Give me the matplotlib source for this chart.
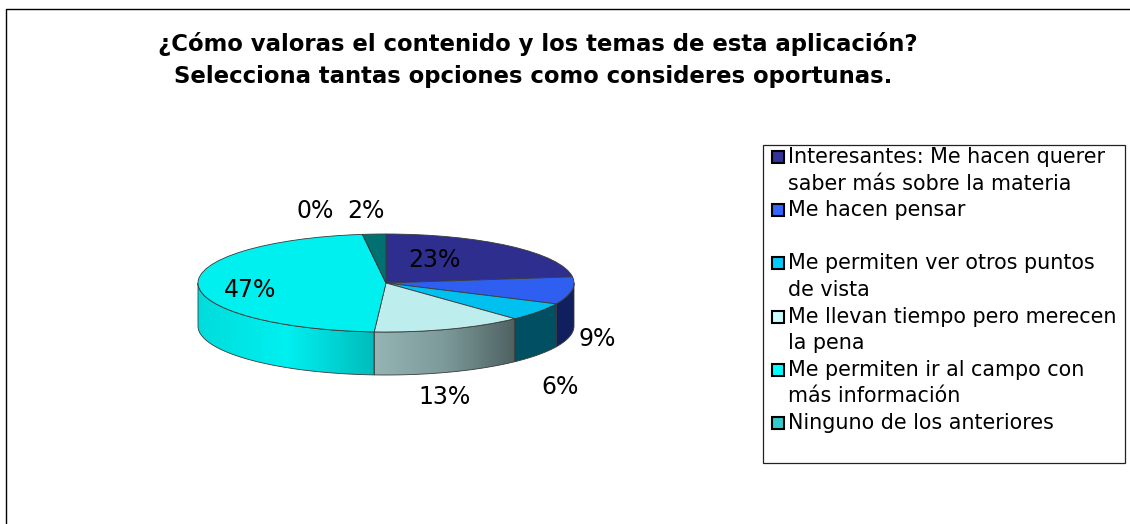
import matplotlib
matplotlib.use('Agg')
import matplotlib.pyplot as plt
import numpy as np
from matplotlib.colors import LinearSegmentedColormap
from matplotlib.patches import Polygon, Rectangle

# --- dane ---
titulo = '¿Cómo valoras el contenido y los temas de esta aplicación?\nSelecciona tantas opciones como consideres oportunas.'
valores = [23, 9, 6, 13, 47, 0, 2]
etiquetas_leyenda = [
    'Interesantes: Me hacen querer\nsaber más sobre la materia',
    'Me hacen pensar\n ',
    'Me permiten ver otros puntos\nde vista',
    'Me llevan tiempo pero merecen\nla pena',
    'Me permiten ir al campo con\nmás información',
    'Ninguno de los anteriores',
]
colores_leyenda = ['#333399', '#3366ff', '#00ccff', '#ccffff', '#00ffff', '#33cccc']
colores_tapa = ['#2e2e8e', '#2e5ff0', '#00c0f0', '#bdeded', '#00f0f0', '#2eb8b8', '#007070']
colores_lado = [
    ['#1a1a55', '#1a1a55'],
    ['#10205f', '#10205f'],
    ['#005062', '#005062'],
    ['#95b4b4', '#7d9a9a', '#4f6262'],
    ['#00dcdc', '#00f0f0', '#00bcbc'],
    ['#1a7070', '#1a7070'],
    ['#004040', '#004040'],
]
pos_etiquetas = [(434, 260), (597, 339), (560, 387), (445, 397), (250, 290), (315, 211), (366, 211)]

W, H = 1130, 524
CX, CY, RX, RY, GRUBOSC = 386, 283, 188, 49, 43
KRAWEDZ = '#3a3a3a'

plt.rcParams['font.family'] = 'DejaVu Sans'
fig = plt.figure(figsize=(W / 100, H / 100), dpi=100, facecolor='white')

# kolo: os na calej figurze, jednostka x = RX pikseli, jednostka y = RY pikseli
ax_kolo = fig.add_axes([0, 0, 1, 1])
ax_kolo.pie(valores, colors=colores_tapa, startangle=90, counterclock=False, radius=1,
            wedgeprops={'edgecolor': KRAWEDZ, 'linewidth': 0.6, 'zorder': 5})
ax_kolo.set_aspect('auto')

# boczna sciana, tylko przod (90-270 stopni od gory zgodnie z zegarem)
gora = np.cumsum(valores) / sum(valores) * 360
dol = np.concatenate([[0], gora[:-1]])
g = GRUBOSC / RY
for a0, a1, stopnie in zip(dol, gora, colores_lado):
    a0, a1 = max(a0, 90), min(a1, 270)
    if a1 <= a0:
        continue
    t = np.radians(np.linspace(a0, a1, 80))
    x, y = np.sin(t), np.cos(t)
    pts = np.column_stack([np.r_[x, x[::-1]], np.r_[y, y[::-1] - g]])
    wielokat = Polygon(pts, closed=True, facecolor='none', edgecolor=KRAWEDZ, linewidth=0.6, zorder=3)
    ax_kolo.add_patch(wielokat)
    cmap = LinearSegmentedColormap.from_list('lado', stopnie)
    x0, x1 = sorted((x.min(), x.max()))
    # gradient idzie od lewej do prawej
    img = ax_kolo.imshow(np.linspace(0, 1, 128).reshape(1, -1), cmap=cmap, aspect='auto', zorder=2,
                         extent=[x0, x1, (y - g).min(), y.max()])
    img.set_clip_path(wielokat)

ax_kolo.set_xlim(-CX / RX, (W - CX) / RX)
ax_kolo.set_ylim(-(H - CY) / RY, CY / RY)
ax_kolo.axis('off')

# wszystko inne w pikselach obrazka
ax = fig.add_axes([0, 0, 1, 1], facecolor='none')
ax.set_xlim(0, W)
ax.set_ylim(H, 0)
ax.axis('off')

ax.plot([5.5, 5.5, W], [H, 9, 9], color='black', linewidth=1)

linie_tytulu = titulo.split('\n')
ax.text(538, 44, linie_tytulu[0], ha='center', va='center', fontsize=16.4, fontweight='bold')
ax.text(533, 77, linie_tytulu[1], ha='center', va='center', fontsize=16.4, fontweight='bold')

for v, (px, py) in zip(valores, pos_etiquetas):
    ax.text(px, py, f'{v}%', ha='center', va='center', fontsize=17, color='black')

# legenda
ax.add_patch(Rectangle((762.5, 145), 362.5, 318, facecolor='white', edgecolor='#222222', linewidth=0.9))
y_linia = 157
KROK = 26.6
for etykieta, kolor in zip(etiquetas_leyenda, colores_leyenda):
    ax.add_patch(Rectangle((772, y_linia - 6), 12, 12, facecolor=kolor, edgecolor='black', linewidth=1.5))
    for linia in etykieta.split('\n'):
        ax.text(788.5, y_linia, linia, ha='left', va='center', fontsize=14.9, color='black')
        y_linia += KROK

fig.savefig('out.png', dpi=100)
